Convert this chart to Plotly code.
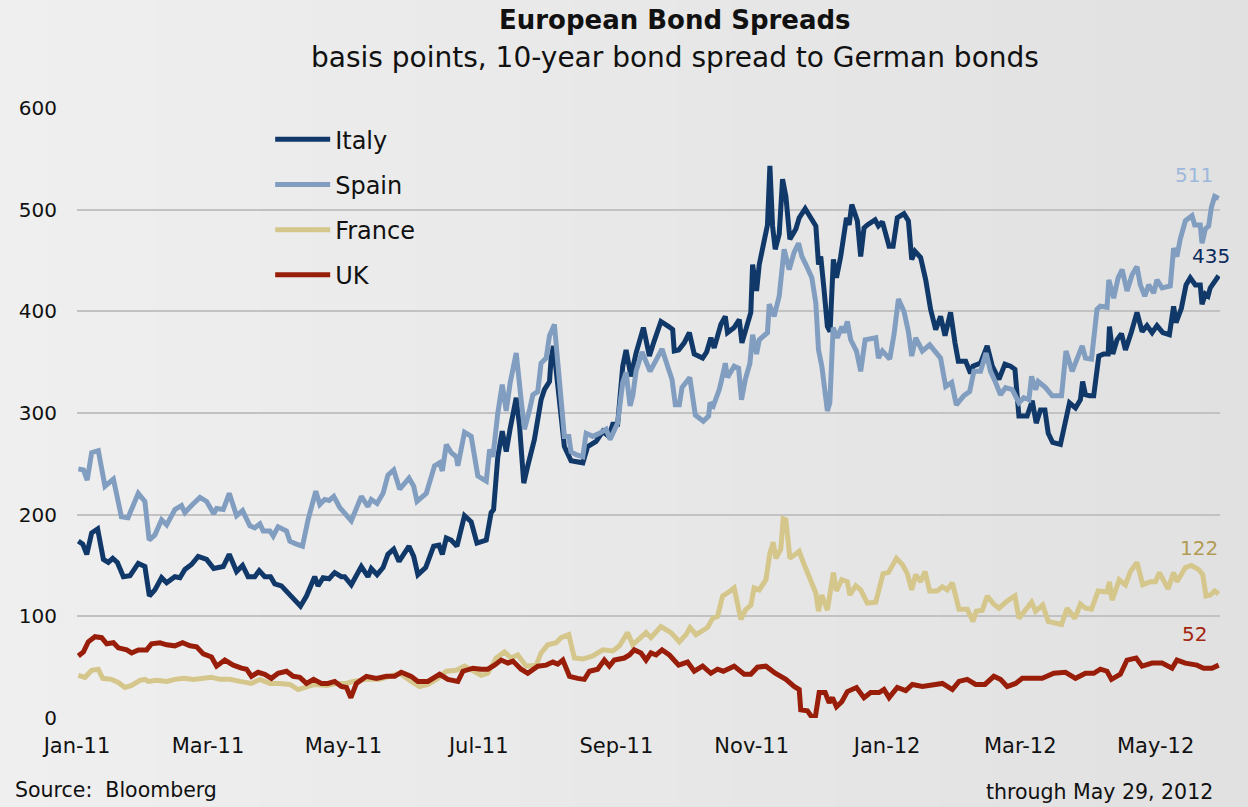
import pandas as pd
import plotly.graph_objects as go

START = "2011-01-01"  # day offsets below are days after this date

italy_day = [0.6, 2.6, 4.4, 6.6, 9.3, 11.9, 14.1, 16.1, 18.2, 20.9, 23.9, 27.6, 30.6, 32.6, 35.1, 38.1, 40.4, 44.1, 46.4, 48.6,
             51.6, 54.6, 58.4, 61.6, 65.9, 68.6, 71.9, 74.6, 77.1, 80.1, 82.1, 84.6, 87.2, 89.1, 92.1, 95.9, 98.1, 100.7, 103.4,
             107.1, 108.6, 110.9, 113.6, 116.1, 119.1, 120.6, 123.6, 128.1, 131.1, 132.6, 135.2, 137.9, 140.1, 142.7, 145.1,
             149.6, 151.7, 153.6, 157.1, 160.7, 163.1, 164.6, 166.4, 168.6, 171.2, 174.6, 177.6, 180.2, 184.4, 186.6, 187.7,
             189.6, 191.6, 193.4, 195.2, 197.9, 199.4, 201.3, 203.1, 206.1, 209.1, 210.6, 212.9, 213.6, 214.7, 217.4, 219.6,
             222.6, 224.9, 227.9, 230.1, 233.9, 236.9, 239.6, 241.4, 243.6, 245.9, 247.4, 249.6, 251.9, 255.2, 257.9, 260.1,
             263.1, 266.6, 268.4, 269.1, 271.1, 273.6, 275.9, 278.1, 281.9, 283.7, 285.6, 287.1, 290.1, 292.1, 293.1, 296.1,
             298.4, 299.6, 302.1, 303.6, 304.4, 306.2, 307.4, 309.2, 311.1, 312.2, 313.4, 314.6, 316.4, 317.9, 319.4, 321.2,
             323.9, 325.4, 328.1, 330.6, 332.9, 334.1, 335.1, 336.6, 338.1, 339.3, 340.8, 342.2, 344.1, 346.7, 347.9, 349.1,
             351.6, 353.1, 354.6, 356.1, 359.6, 361.1, 362.9, 365.9, 367.7, 369.6, 372.6, 374.6, 376.1, 377.6, 380.1, 382.4,
             384.6, 386.9, 389.1, 391.1, 393.6, 395.6, 397.1, 400.4, 402.6, 403.7, 407.1, 410.1, 412.4, 415.4, 418.1, 420.6,
             422.6, 424.4, 428.1, 430.4, 432.2, 434.1, 436.1, 437.6, 439.6, 443.1, 445.4, 447.2, 449.9, 452.1, 453.1, 454.4,
             456.2, 458.1, 460.4, 462.6, 464.6, 465.2, 466.7, 468.6, 470.6, 472.4, 475.1, 477.6, 479.9, 482.1, 484.4, 486.6,
             489.2, 492.2, 494.1, 495.2, 497.6, 499.7, 501.6, 503.9, 506.1, 506.9, 508.4, 509.6, 510.6, 512.6, 514.4]
italy_bp = [174, 171, 161, 182, 186, 156, 153, 157, 153, 139, 140, 152, 149, 120, 126, 138, 133, 139, 138, 146,
            151, 159, 156, 147, 149, 161, 144, 150, 139, 139, 145, 139, 139, 132, 130, 121, 115, 110, 120,
            139, 130, 138, 137, 143, 139, 139, 131, 149, 139, 147, 141, 148, 161, 166, 154,
            169, 159, 141, 148, 169, 170, 161, 177, 175, 169, 199, 193, 172, 175, 202, 205,
            257, 282, 262, 285, 315, 287, 231, 248, 274, 313, 323, 331, 353, 366, 317, 267,
            253, 252, 251, 267, 272, 282, 277, 289, 289, 346, 362, 336, 359, 384, 356, 371,
            390, 385, 382, 361, 362, 369, 379, 358, 354, 360, 374, 364, 387, 395, 379, 384,
            392, 369, 387, 399, 446, 420, 446, 464, 485, 543, 484, 461, 476, 530, 513, 471,
            481, 492, 501, 492, 484, 446, 454, 421, 385, 380, 451, 433, 454, 492, 485, 505,
            489, 454, 482, 485, 490, 484, 488, 464, 464, 492, 496, 489, 451, 459, 453, 431,
            402, 382, 395, 376, 399, 369, 351, 351, 339, 346, 349, 366, 346, 333, 348, 346,
            343, 297, 297, 312, 290, 303, 303, 280, 271, 269, 290, 310, 305, 313, 331, 318,
            317, 317, 356, 358, 358, 385, 358, 372, 378, 362, 380, 399, 380, 386, 379, 386,
            379, 377, 405, 389, 403, 426, 433, 426, 426, 407, 417, 415, 423, 430, 435]

spain_day = [0.6, 2.9, 4.6, 6.6, 9.6, 12.6, 16.4, 20.0, 23.0, 27.6, 30.6, 32.5, 35.1, 38.1, 40.4, 44.1, 47.1, 48.6, 51.6,
             55.4, 58.4, 61.6, 62.9, 65.9, 68.6, 71.9, 74.6, 77.9, 80.1, 82.4, 83.9, 86.9, 88.4, 90.6, 94.4, 95.9, 98.9,
             101.6, 104.1, 107.6, 109.4, 111.6, 113.6, 115.7, 118.4, 120.6, 123.6, 128.1, 131.1, 132.6, 135.2, 137.9, 140.1,
             142.7, 145.4, 149.6, 151.7, 153.2, 157.4, 161.1, 163.4, 164.6, 166.4, 168.6, 170.9, 171.6, 174.6, 177.6, 180.6,
             184.4, 185.9, 187.4, 189.6, 191.6, 193.4, 195.2, 197.9, 200.1, 201.6, 203.9, 205.4, 207.6, 209.1, 211.4, 212.9,
             215.1, 217.4, 219.6, 221.6, 222.6, 224.9, 227.9, 229.4, 232.4, 235.4, 238.4, 240.2, 242.1, 243.6, 245.9, 247.4,
             249.2, 250.4, 251.9, 254.6, 258.2, 260.9, 263.6, 266.1, 268.1, 269.6, 271.4, 272.6, 276.1, 278.6, 282.2, 284.6,
             285.2, 286.7, 289.4, 290.6, 292.1, 293.1, 296.1, 298.1, 299.4, 301.1, 303.2, 304.4, 306.2, 307.4, 311.1, 311.9,
             314.1, 316.4, 318.6, 320.9, 323.1, 325.1, 326.6, 328.4, 331.1, 332.9, 334.1, 335.6, 337.1, 338.1, 339.2, 340.7,
             342.6, 344.6, 345.6, 347.1, 348.6, 351.2, 353.1, 355.1, 359.9, 361.1, 362.9, 366.2, 368.1, 370.1, 372.6, 374.6,
             376.1, 377.9, 380.9, 384.2, 389.1, 391.4, 394.1, 396.2, 399.6, 402.2, 404.1, 407.1, 409.6, 411.6, 413.9, 416.1,
             418.4, 421.4, 424.4, 426.6, 428.9, 430.1, 431.9, 433.1, 436.4, 439.4, 443.6, 445.6, 448.4, 450.6, 452.9, 454.4,
             457.1, 459.6, 461.1, 464.1, 464.9, 467.1, 469.1, 470.9, 473.1, 475.4, 477.6, 479.1, 481.1, 482.9, 485.1, 486.6,
             488.9, 492.6, 494.1, 495.6, 497.1, 499.4, 502.4, 503.6, 506.1, 506.9, 508.4, 509.9, 511.1, 512.6, 514.4]
spain_bp = [245, 244, 234, 261, 263, 228, 235, 198, 197, 221, 213, 175, 180, 195, 190, 205, 209, 202, 209,
            217, 213, 201, 206, 205, 221, 199, 204, 189, 187, 191, 184, 184, 179, 188, 184, 174, 171,
            169, 195, 223, 210, 215, 214, 218, 207, 202, 194, 218, 208, 215, 211, 221, 239,
            244, 225, 236, 228, 213, 221, 248, 251, 243, 269, 261, 257, 248, 281, 277, 238,
            233, 264, 257, 300, 328, 302, 330, 359, 313, 284, 303, 318, 321, 349, 354, 376,
            387, 336, 277, 277, 262, 259, 257, 280, 277, 280, 284, 274, 282, 290, 330, 340,
            307, 317, 341, 360, 341, 353, 363, 346, 333, 308, 308, 325, 335, 298, 292, 297,
            310, 307, 323, 334, 349, 335, 346, 344, 313, 333, 349, 377, 358, 372, 379, 407,
            395, 415, 461, 441, 458, 467, 454, 446, 433, 408, 362, 346, 317, 302, 310, 384,
            374, 385, 379, 390, 372, 361, 341, 372, 374, 354, 361, 353, 377, 412, 400, 380,
            356, 374, 361, 367, 354, 326, 330, 308, 317, 321, 341, 341, 359, 341, 330, 318,
            325, 323, 310, 315, 313, 336, 323, 331, 325, 317, 317, 361, 341, 353, 366, 354,
            353, 402, 405, 404, 431, 413, 433, 441, 420, 436, 444, 426, 415, 426, 418, 431,
            423, 425, 462, 454, 471, 489, 494, 485, 485, 467, 481, 484, 502, 513, 511]

france_day = [0.6, 3.6, 6.6, 9.6, 11.6, 15.6, 18.6, 21.6, 24.6, 28.4, 30.6, 32.1, 35.9, 40.4, 44.1, 48.2, 52.4, 56.9, 60.6,
              64.4, 68.9, 73.4, 78.6, 82.4, 86.9, 91.4, 95.9, 99.6, 103.4, 107.1, 112.4, 116.9, 121.4, 124.4, 130.4, 136.4,
              140.9, 145.4, 150.6, 154.4, 158.1, 162.6, 166.4, 170.9, 174.6, 178.4, 182.1, 185.1, 188.9, 192.6, 195.6, 198.6,
              202.4, 206.9, 209.1, 212.1, 215.9, 218.1, 221.6, 224.1, 227.9, 232.4, 236.9, 241.4, 244.4, 248.1, 250.4, 256.4,
              258.6, 263.1, 267.6, 271.4, 274.4, 276.2, 278.9, 284.1, 286.4, 288.6, 290.9, 293.1, 296.1, 299.1, 301.4, 303.6,
              305.1, 307.4, 310.4, 312.2, 313.7, 314.9, 317.1, 318.2, 319.4, 321.2, 325.4, 327.6, 330.6, 332.9, 334.1, 335.6,
              338.1, 340.8, 342.2, 344.6, 347.1, 348.2, 350.9, 353.1, 356.1, 359.9, 363.2, 365.6, 369.2, 371.9, 374.1, 376.1,
              377.9, 380.1, 382.1, 384.2, 387.6, 389.9, 392.1, 394.4, 397.4, 401.1, 403.7, 405.2, 407.9, 410.1, 413.1, 415.4,
              419.1, 422.6, 424.4, 426.6, 430.1, 431.9, 435.1, 437.6, 440.9, 443.6, 446.1, 449.6, 452.1, 454.4, 457.1, 460.1,
              464.1, 465.2, 466.4, 469.6, 472.4, 474.6, 477.6, 480.2, 483.6, 485.9, 487.7, 491.6, 494.1, 495.6, 499.4, 502.1,
              505.4, 507.2, 508.7, 510.6, 512.6, 514.4]
france_bp = [42, 40, 47, 48, 39, 38, 35, 30, 32, 37, 38, 36, 37, 36, 38, 39, 38, 39, 40,
             38, 38, 36, 34, 38, 34, 34, 33, 28, 30, 33, 32, 34, 34, 36, 38, 38,
             41, 44, 36, 31, 33, 39, 46, 47, 51, 46, 42, 44, 59, 65, 59, 62,
             51, 52, 64, 72, 74, 79, 82, 59, 58, 61, 67, 66, 71, 84, 72, 84,
             79, 90, 84, 75, 82, 89, 82, 89, 98, 100, 120, 123, 128, 97, 107, 111,
             128, 126, 136, 162, 173, 157, 166, 196, 195, 157, 164, 151, 136, 123, 105, 121,
             106, 143, 125, 136, 134, 121, 130, 126, 113, 114, 142, 143, 157, 151, 142, 126,
             141, 134, 144, 125, 125, 129, 126, 133, 107, 107, 95, 105, 106, 120, 112, 108,
             115, 120, 98, 105, 114, 105, 111, 95, 93, 92, 108, 98, 112, 108, 107, 125,
             124, 134, 116, 136, 131, 144, 153, 131, 134, 134, 143, 127, 143, 134, 148, 150,
             146, 141, 120, 121, 125, 122]

uk_day = [0.6, 2.9, 5.1, 8.1, 11.1, 13.4, 16.4, 18.6, 22.4, 24.6, 27.6, 31.4, 33.6, 37.4, 40.4, 44.1, 47.6, 50.9, 53.9,
          56.9, 60.6, 62.9, 66.6, 70.4, 74.1, 76.4, 78.6, 81.6, 84.6, 87.6, 90.6, 94.4, 97.4, 100.4, 103.4, 106.6, 110.1,
          113.1, 116.1, 119.1, 121.4, 123.4, 125.9, 130.4, 134.9, 139.4, 143.1, 146.1, 150.6, 153.6, 158.1, 163.4, 167.1,
          171.6, 173.9, 178.4, 182.1, 185.1, 188.1, 191.1, 194.1, 196.4, 200.1, 203.1, 207.6, 211.4, 214.4, 216.6, 218.9,
          221.9, 225.6, 228.6, 230.9, 234.6, 237.6, 239.9, 242.1, 246.6, 248.9, 251.1, 254.1, 256.4, 258.6, 260.9, 263.6,
          266.9, 271.1, 275.1, 278.1, 281.9, 285.6, 288.6, 291.2, 296.1, 300.6, 303.6, 306.6, 310.4, 314.6, 319.4, 323.1,
          325.4, 326.1, 329.1, 331.4, 332.6, 334.4, 337.1, 338.9, 340.4, 342.2, 344.6, 347.1, 351.2, 354.6, 357.6, 361.4,
          363.6, 365.9, 369.6, 373.4, 376.4, 380.9, 385.4, 389.9, 394.4, 397.4, 401.1, 404.9, 409.1, 413.1, 416.1, 419.1,
          422.9, 425.9, 430.4, 434.9, 440.1, 445.4, 449.9, 454.4, 458.1, 461.1, 464.1, 466.1, 470.1, 473.1, 477.2, 479.9,
          484.4, 488.9, 493.4, 495.6, 499.4, 504.6, 507.6, 511.4, 514.4]
uk_bp = [61, 65, 75, 80, 79, 73, 74, 69, 67, 64, 67, 67, 73, 74, 72, 71, 74, 71, 70,
         63, 60, 51, 57, 52, 49, 48, 41, 45, 43, 39, 44, 46, 41, 40, 34, 38, 34,
         34, 36, 31, 30, 20, 34, 41, 39, 41, 41, 45, 41, 36, 36, 43, 38,
         36, 46, 49, 48, 48, 52, 57, 54, 56, 48, 44, 51, 52, 55, 53, 57,
         41, 39, 38, 46, 48, 57, 51, 57, 59, 62, 67, 64, 57, 64, 62, 67,
         62, 52, 55, 46, 51, 44, 48, 46, 51, 43, 43, 50, 51, 44, 38, 31,
         28, 8, 7, 0, 0, 25, 25, 15, 20, 11, 16, 26, 30, 20, 25, 25,
         28, 20, 30, 27, 33, 31, 33, 34, 28, 36, 38, 33, 33, 41, 38, 31,
         34, 39, 39, 39, 44, 45, 39, 44, 44, 48, 46, 38, 43, 57, 59, 51,
         54, 54, 49, 57, 54, 52, 49, 49, 52]

series_names = ["Italy", "Spain", "France", "UK"]
series_days = [italy_day, spain_day, france_day, uk_day]
series_vals = [italy_bp, spain_bp, france_bp, uk_bp]
line_colors = ["#10396A", "#819EC1", "#D5C68C", "#991E0A"]
label_colors = ["#0D2B5C", "#9DB8DD", "#B29B55", "#A3260F"]
label_shift = [(13, 20), (-4, 23), (1, 46), (-10, 31)]

tick_months = ["2011-01-01", "2011-03-01", "2011-05-01", "2011-07-01", "2011-09-01",
               "2011-11-01", "2012-01-01", "2012-03-01", "2012-05-01"]
tick_labels = ["Jan-11", "Mar-11", "May-11", "Jul-11", "Sep-11", "Nov-11", "Jan-12", "Mar-12", "May-12"]

FONT = "DejaVu Sans"
start = pd.Timestamp(START)

fig = go.Figure()
for name, days, vals, col in zip(series_names, series_days, series_vals, line_colors):
    dates = start + pd.to_timedelta(days, unit="D")
    fig.add_trace(go.Scatter(x=dates, y=vals, mode="lines", name=name, legendgroup=name,
                             line=dict(color=col, width=5)))

# gradient-like background bands (decorative)
n_bands = 24
for i in range(n_bands):
    g = int(round(239 - (239 - 225) * i / (n_bands - 1)))
    fig.add_shape(type="rect", xref="paper", yref="paper",
                  x0=-0.07 + i * (1.1 / n_bands), x1=-0.07 + (i + 1) * (1.1 / n_bands) + 0.002,
                  y0=-0.2, y1=1.25, fillcolor=f"rgb({g},{g},{g})", line=dict(width=0), layer="below")

annotations = [
    dict(text="<b>European Bond Spreads</b>", xref="paper", yref="paper", x=0.523, y=1.144,
         xanchor="center", yanchor="middle", showarrow=False, font=dict(family=FONT, size=26, color="#111")),
    dict(text="basis points, 10-year bond spread to German bonds", xref="paper", yref="paper", x=0.523, y=1.082,
         xanchor="center", yanchor="middle", showarrow=False, font=dict(family=FONT, size=28, color="#111")),
    dict(text="Source:  Bloomberg", xref="paper", yref="paper", x=-0.056, y=-0.118,
         xanchor="left", yanchor="middle", showarrow=False, font=dict(family=FONT, size=20.5, color="#111")),
    dict(text="through May 29, 2012", xref="paper", yref="paper", x=0.9956, y=-0.121,
         xanchor="right", yanchor="middle", showarrow=False, font=dict(family=FONT, size=20.5, color="#111")),
]
for days, vals, col, (dx, dy) in zip(series_days, series_vals, label_colors, label_shift):
    annotations.append(dict(text=str(vals[-1]), x=start + pd.Timedelta(days=days[-1]), y=vals[-1],
                            xref="x", yref="y", xanchor="right", yanchor="middle", showarrow=False,
                            xshift=dx, yshift=dy, font=dict(family=FONT, size=20, color=col)))

fig.update_layout(
    width=1248, height=807,
    margin=dict(l=77, r=28, t=108, b=89),
    paper_bgcolor="#EAEAEA", plot_bgcolor="rgba(0,0,0,0)",
    font=dict(family=FONT, size=19, color="#111"),
    showlegend=True,
    legend=dict(x=0.169, y=0.985, xanchor="left", yanchor="top", bgcolor="rgba(0,0,0,0)", itemwidth=55,
                font=dict(family=FONT, size=24, color="#111"), traceorder="grouped", tracegroupgap=11),
    annotations=annotations,
    xaxis=dict(type="date", range=["2011-01-01", "2012-05-30"], tickvals=tick_months, ticktext=tick_labels,
               showgrid=False, zeroline=False, showline=False, ticks="", ticklabelstandoff=13,
               tickfont=dict(family=FONT, size=21, color="#111")),
    yaxis=dict(range=[0, 600], dtick=100, tick0=0, showgrid=True, gridcolor="#C2C2C2", gridwidth=1.5,
               zeroline=False, showline=False, ticks="", ticklabelstandoff=19,
               tickfont=dict(family=FONT, size=20, color="#111")),
)

fig.write_html("out.html", config={"displayModeBar": False},
               post_script="document.body.style.margin='0';document.body.style.background='#EAEAEA';")
